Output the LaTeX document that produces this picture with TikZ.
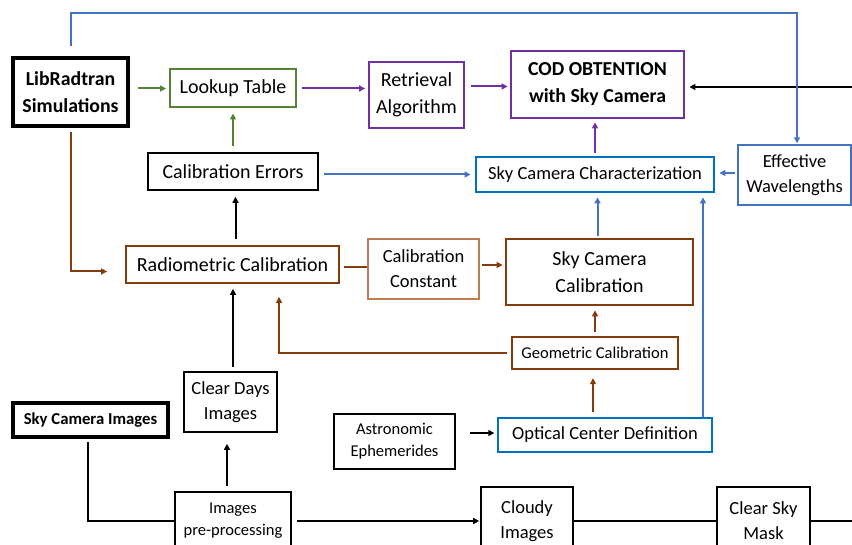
\documentclass[tikz,border=0pt]{standalone}
\usepackage{fontspec}
\setmainfont{Carlito}
\usetikzlibrary{arrows.meta,calc}
\definecolor{cgreen}{RGB}{84,130,53}
\definecolor{cpurple}{RGB}{112,48,160}
\definecolor{cblue}{RGB}{68,114,196}
\definecolor{cblued}{RGB}{0,112,192}
\definecolor{cbrown}{RGB}{132,60,12}
\definecolor{cbrownl}{RGB}{190,125,85}
\tikzset{
  box/.style={draw, inner sep=0pt, align=center, line width=1.6pt},
  fA/.style={font=\fontsize{20}{27}\selectfont},
  fB/.style={font=\fontsize{18.5}{25}\selectfont},
  fC/.style={font=\fontsize{16.5}{22}\selectfont},
  fbold/.style={font=\fontsize{19.8}{27}\selectfont\bfseries},
  conn/.style={line width=2pt},
  arr/.style={conn, -{Triangle[length=6pt,width=6pt]}},
}
\begin{document}
\begin{tikzpicture}[x=1pt,y=-1pt]
\useasboundingbox (0,0) rectangle (852,545);
% nodes
\node[box, fbold, line width=3.2pt, minimum width=115, minimum height=68] (lib) at (70.5,92) {LibRadtran\\Simulations};
\node[box, fA, draw=cgreen, line width=2pt, minimum width=126, minimum height=38] (lookup) at (233,88.5) {Lookup Table};
\node[box, fA, draw=cpurple, line width=1.8pt, minimum width=95, minimum height=66] (retr) at (416.5,95) {Retrieval\\Algorithm};
\node[box, fbold, draw=cpurple, line width=2.8pt, minimum width=173, minimum height=67] (cod) at (597.5,84.5) {COD OBTENTION\\with Sky Camera};
\node[box, fA, minimum width=170, minimum height=37] (calerr) at (233,171.5) {Calibration Errors};
\node[box, fB, draw=cblued, line width=2.8pt, minimum width=238, minimum height=35] (skychar) at (595,174.5) {Sky Camera Characterization};
\node[box, fB, draw=cblue, line width=1.4pt, minimum width=113, minimum height=60] (effw) at (794.5,175) {Effective\\Wavelengths};
\node[box, fA, draw=cbrown, line width=1.8pt, minimum width=213, minimum height=37] (radio) at (232.5,264.5) {Radiometric Calibration};
\node[box, fB, draw=cbrownl, line width=1.5pt, minimum width=111, minimum height=60] (calconst) at (423.5,269) {Calibration\\Constant};
\node[box, fA, draw=cbrown, line width=2.8pt, minimum width=187, minimum height=66] (skycal) at (599.5,272) {Sky Camera\\Calibration};
\node[box, fC, draw=cbrown, line width=2.4pt, minimum width=166, minimum height=32] (geo) at (595,353) {Geometric Calibration};
\node[box, fB, minimum width=93, minimum height=60] (cleardays) at (230.5,402) {Clear Days\\Images};
\node[box, font=\fontsize{16.7}{22}\selectfont\bfseries, line width=3.2pt, minimum width=155, minimum height=34] (sci) at (90.5,420) {Sky Camera Images};
\node[box, fC, minimum width=121, minimum height=55] (astro) at (394.5,441.5) {Astronomic\\Ephemerides};
\node[box, fB, draw=cblued, line width=1.4pt, minimum width=214, minimum height=34] (optical) at (605,435) {Optical Center Definition};
\node[box, fC, minimum width=116, minimum height=58] (prep) at (233,521) {Images\\pre-processing};
\node[box, fB, minimum width=92, minimum height=68] (cloudy) at (527,521) {Cloudy\\Images};
\node[box, fB, minimum width=93, minimum height=68] (clearsky) at (763.5,521) {Clear Sky\\Mask};
\coordinate (topstart) at (71,46);
\coordinate (topright) at (797,13);
\coordinate (rightin) at (852,87);
\coordinate (rightout) at (852,521);
% connectors
\draw[arr, black] (rightin) -- ([xshift=4]cod.east|-rightin);
\draw[arr, cblue] (topstart) -- (topstart|-topright) -- (topright) -- ([yshift=1]topright|-effw.north);
\draw[arr, cgreen, shorten <=8pt, shorten >=3pt] (lib.east|-lookup.west) -- (lookup.west);
\draw[arr, cpurple, shorten <=5pt, shorten >=3pt] (lookup.east) -- (retr.west|-lookup.east);
\draw[arr, cpurple, shorten <=6pt, shorten >=2pt] ([yshift=-2]retr.east|-cod.west) -- ([yshift=-2]cod.west);
\draw[arr, cgreen, shorten <=6pt, shorten >=5pt] (calerr.north) -- (lookup.south);
\draw[arr, cblue, shorten <=5pt, shorten >=4pt] (calerr.east|-skychar.west) -- (skychar.west);
\draw[arr, cpurple, shorten <=3pt, shorten >=3pt] (skychar.north) -- (skychar.north|-cod.south);
\draw[arr, cblue, shorten <=2pt, shorten >=4pt] ([yshift=2]effw.west) -- ([yshift=2]skychar.east|-effw.west);
\draw[arr, black, shorten <=6pt, shorten >=6pt] ([xshift=3]radio.north) -- ([xshift=3]radio.north|-calerr.south);
\draw[arr, cbrown, shorten <=4pt] (lib.south) |- ([xshift=-18,yshift=-7]radio.west);
\draw[conn, cbrown, shorten <=4pt] ([yshift=-2.5]radio.east) -- ([yshift=-2.5]radio.east-|calconst.west);
\draw[arr, cbrown, shorten <=2pt, shorten >=2pt] ([yshift=4]calconst.east) -- ([yshift=4]calconst.east-|skycal.west);
\draw[arr, cblue, shorten <=2pt, shorten >=4pt] ([xshift=-2]skycal.north) -- ([xshift=-2]skycal.north|-skychar.south);
\draw[arr, cblue, shorten >=4pt] ([xshift=98]optical.north) -- ([xshift=98]optical.north|-skychar.south);
\draw[arr, cbrown, shorten <=4pt, shorten >=4pt] (geo.north) -- (geo.north|-skycal.south);
\draw[arr, cbrown, shorten <=4pt, shorten >=13pt] (geo.west) -| ([xshift=46.5]radio.south);
\draw[arr, cbrown, shorten <=5pt, shorten >=8pt] ([xshift=-12]optical.north) -- ([xshift=-12]optical.north|-geo.south);
\draw[arr, black, shorten <=14pt, shorten >=3pt] ([yshift=2]astro.east|-optical.west) -- ([yshift=2]optical.west);
\draw[arr, black, shorten <=4pt, shorten >=5pt] ([xshift=2.5]cleardays.north) -- ([xshift=2.5]cleardays.north|-radio.south);
\draw[arr, black, shorten <=5pt, shorten >=11pt] ([xshift=-6]prep.north) -- ([xshift=-6]prep.north|-cleardays.south);
\draw[conn, black, shorten <=3pt] ([xshift=-2.5]sci.south) |- (prep.west);
\draw[arr, black, shorten <=5pt, shorten >=1pt] (prep.east) -- (cloudy.west);
\draw[conn, black] (cloudy.east) -- (clearsky.west);
\draw[conn, black] (clearsky.east) -- (rightout);
\end{tikzpicture}
\end{document}
